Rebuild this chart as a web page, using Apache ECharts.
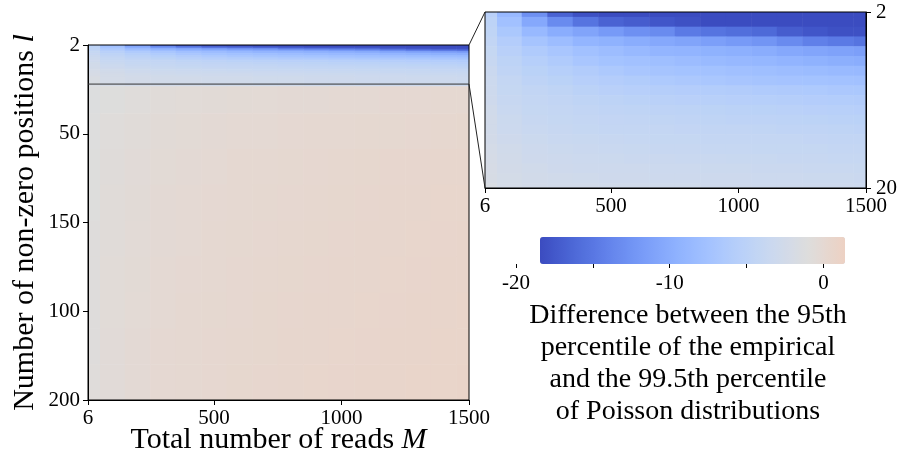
<!DOCTYPE html>
<html><head><meta charset="utf-8">
<script src="https://cdn.jsdelivr.net/npm/echarts@6/dist/echarts.min.js"></script>
<style>html,body{margin:0;padding:0;background:#fff}#c{width:900px;height:457px}</style>
</head><body><div id="c"></div>
<script>
// ---------------- data ----------------
const readsM = [6,100,200,300,400,500,600,700,800,900,1000,1100,1200,1300,1400,1500];
const insetL = [2,3,4,5,6,7,8,9,10,11,12,13,14,15,16,17,18,19,20];
const insetValues = [
  [-5.3,-8.6,-12.8,-16.6,-18.0,-18.4,-18.4,-18.4,-18.4,-18.4,-18.4,-18.4,-18.4,-18.4,-18.4,-18.4],
  [-4.8,-7.6,-10.5,-13.3,-15.2,-16.6,-17.1,-17.6,-18.0,-18.4,-18.4,-18.4,-18.4,-18.4,-18.4,-18.4],
  [-4.6,-6.7,-8.6,-10.0,-10.9,-11.9,-12.8,-13.3,-14.7,-15.2,-15.7,-16.1,-17.1,-17.6,-18.0,-18.0],
  [-4.3,-5.8,-7.2,-8.1,-9.1,-9.5,-10.0,-10.5,-10.9,-11.4,-11.9,-12.4,-13.3,-14.2,-14.7,-15.2],
  [-3.9,-5.3,-6.2,-6.9,-7.6,-8.1,-8.6,-9.1,-9.2,-9.5,-9.7,-10.0,-10.5,-10.8,-11.1,-11.4],
  [-3.7,-4.8,-5.6,-6.2,-6.9,-7.4,-7.6,-7.9,-8.2,-8.5,-8.7,-8.9,-9.2,-9.5,-9.8,-10.0],
  [-3.4,-4.5,-5.1,-5.6,-6.0,-6.5,-6.9,-7.2,-7.4,-7.5,-7.7,-7.9,-8.1,-8.3,-8.5,-8.6],
  [-3.2,-4.1,-4.7,-5.1,-5.5,-5.8,-6.1,-6.4,-6.6,-6.8,-7.0,-7.2,-7.3,-7.4,-7.5,-7.6],
  [-3.1,-3.9,-4.3,-4.6,-5.0,-5.3,-5.5,-5.7,-5.8,-5.9,-6.0,-6.2,-6.3,-6.4,-6.6,-6.7],
  [-2.9,-3.7,-4.1,-4.3,-4.6,-4.8,-5.0,-5.2,-5.3,-5.4,-5.5,-5.6,-5.7,-5.8,-5.9,-6.0],
  [-2.7,-3.5,-3.9,-4.1,-4.3,-4.5,-4.6,-4.7,-4.8,-4.9,-5.0,-5.1,-5.2,-5.3,-5.4,-5.5],
  [-2.6,-3.3,-3.7,-3.9,-4.1,-4.2,-4.3,-4.4,-4.5,-4.6,-4.7,-4.7,-4.8,-4.9,-5.0,-5.1],
  [-2.5,-3.2,-3.5,-3.7,-3.9,-4.0,-4.1,-4.1,-4.2,-4.3,-4.3,-4.4,-4.5,-4.5,-4.6,-4.7],
  [-2.4,-2.9,-3.3,-3.5,-3.6,-3.7,-3.8,-3.9,-3.9,-4.0,-4.0,-4.1,-4.1,-4.2,-4.3,-4.3],
  [-2.2,-2.7,-3.1,-3.3,-3.4,-3.5,-3.6,-3.7,-3.7,-3.8,-3.8,-3.9,-3.9,-3.9,-4.0,-4.0],
  [-2.1,-2.5,-2.9,-3.1,-3.2,-3.3,-3.4,-3.4,-3.5,-3.5,-3.6,-3.6,-3.7,-3.7,-3.8,-3.8],
  [-2.0,-2.4,-2.7,-2.9,-3.0,-3.1,-3.1,-3.2,-3.2,-3.3,-3.3,-3.4,-3.4,-3.5,-3.5,-3.6],
  [-1.9,-2.3,-2.5,-2.7,-2.8,-2.9,-2.9,-3.0,-3.0,-3.1,-3.1,-3.2,-3.2,-3.3,-3.3,-3.4],
  [-1.7,-2.2,-2.4,-2.5,-2.6,-2.7,-2.7,-2.8,-2.8,-2.9,-2.9,-3.0,-3.0,-3.1,-3.1,-3.2]
];
const lowerL = [30,50,70,90,110,130,150,170,190];
const lowerValues = [
  [-1.2,-1.0,-0.8,-0.6,-0.5,-0.4,-0.3,-0.25,-0.2,-0.15,-0.1,-0.05,0,0,0.05,0.1],
  [-1.1,-0.8,-0.55,-0.4,-0.3,-0.2,-0.1,-0.05,0,0.05,0.1,0.15,0.15,0.2,0.25,0.3],
  [-1.0,-0.7,-0.45,-0.3,-0.15,-0.05,0.05,0.1,0.15,0.2,0.25,0.3,0.35,0.35,0.4,0.4],
  [-1.0,-0.6,-0.4,-0.2,-0.1,0,0.1,0.15,0.2,0.25,0.3,0.35,0.4,0.45,0.5,0.5],
  [-0.9,-0.55,-0.35,-0.15,-0.05,0.05,0.15,0.2,0.25,0.3,0.35,0.4,0.45,0.5,0.55,0.6],
  [-0.9,-0.5,-0.3,-0.1,0,0.1,0.2,0.25,0.3,0.35,0.4,0.45,0.5,0.55,0.6,0.65],
  [-0.85,-0.5,-0.25,-0.05,0.05,0.15,0.2,0.3,0.35,0.4,0.45,0.5,0.55,0.6,0.65,0.7],
  [-0.85,-0.45,-0.2,0,0.1,0.2,0.25,0.3,0.4,0.45,0.5,0.55,0.6,0.65,0.7,0.75],
  [-0.8,-0.45,-0.2,0,0.1,0.2,0.3,0.35,0.4,0.5,0.55,0.6,0.65,0.7,0.75,0.8]
];
const xTickValues = [6,500,1000,1500];
const mainYTickValues = [2,51.5,101,150.5,200];
const mainYTickLabels = ['2','50','150','100','200'];
const insetYTickValues = [2,20];
const colorbarTickValues = [-20,-15,-10,-5,0];
const colorbarLabelValues = [-20,-10,0];
const colorRange = [-18.4,1.4];
const zoomBoxL = [2,23.8];
const captionLines = ['Difference between the 95th','percentile of the empirical','and the 99.5th percentile','of Poisson distributions'];

// ---------------- styling helpers ----------------
const FONT = "'Liberation Serif','DejaVu Serif',serif";
const coolwarm = [[59,76,192],[68,90,204],[77,104,215],[87,117,225],[98,130,234],[108,142,241],[119,154,247],[130,165,251],[141,176,254],[152,185,255],[163,194,255],[174,201,253],[184,208,249],[194,213,244],[204,217,238],[213,219,230],[221,221,221],[229,216,209],[236,211,198],[241,204,185],[245,196,173]];
const T_END = 0.57;
function cmap(t){ const f=t*32, i=Math.min(Math.floor(f),coolwarm.length-2), r=f-i;
  const a=coolwarm[i], b=coolwarm[i+1];
  return 'rgb('+a.map((c,k)=>Math.round(c+(b[k]-c)*r)).join(',')+')'; }
const stops=[]; for(let k=0;k<=40;k++) stops.push(cmap(T_END*k/40));

function edges(centers, lo, hi){
  return centers.map((c,i)=>[i===0?lo:(centers[i-1]+c)/2, i===centers.length-1?hi:(c+centers[i+1])/2]);
}
const mEdges = edges(readsM,6,1500);
function cells(ls, vals, lo, hi){
  const lE = edges(ls,lo,hi), out=[];
  ls.forEach((l,i)=>readsM.forEach((m,j)=>out.push([mEdges[j][0],mEdges[j][1],lE[i][0],lE[i][1],vals[i][j]])));
  return out;
}
const mainData = cells(insetL.concat(lowerL), insetValues.concat(lowerValues), 2, 200);
const insetData = cells(insetL, insetValues, 2, 20);

function renderCell(params, api){
  const p0 = api.coord([api.value(0), api.value(2)]);
  const p1 = api.coord([api.value(1), api.value(3)]);
  const x=Math.min(p0[0],p1[0]), y=Math.min(p0[1],p1[1]);
  return {type:'rect', shape:{x:x, y:y, width:Math.abs(p1[0]-p0[0])+0.6, height:Math.abs(p1[1]-p0[1])+0.6},
    style:{fill:api.visual('color')}};
}
const lab = {color:'#000', fontFamily:FONT, fontSize:21};
const blackLine = {lineStyle:{color:'#000', width:1}};
const titleStyle = {color:'#000', fontFamily:FONT, fontSize:30, rich:{i:{fontStyle:'italic', fontFamily:FONT, fontSize:30, color:'#000'}}};
const plain = (v)=>String(v);
function xAxisCfg(gi, name){
  return {type:'value', gridIndex:gi, min:6, max:1500, z:5,
    axisLine:{show:true, ...blackLine}, splitLine:{show:false},
    axisTick:{show:true, customValues:xTickValues, length:5, ...blackLine},
    axisLabel:{customValues:xTickValues, margin:8, formatter:plain, ...lab},
    name:name||'', nameLocation:'middle', nameGap:25, nameMoveOverlap:false, nameTextStyle:titleStyle};
}

const chart = echarts.init(document.getElementById('c'), null, {renderer:'canvas'});
chart.setOption({
  animation:false,
  backgroundColor:'#fff',
  grid:[
    {left:88, top:45, width:381, height:355, show:true, borderColor:'#000', borderWidth:1, z:5, backgroundColor:'transparent', outerBoundsMode:'none', containLabel:false},
    {left:485, top:12, width:381, height:176, show:true, borderColor:'#000', borderWidth:1, z:5, backgroundColor:'transparent', outerBoundsMode:'none', containLabel:false},
    {left:516, top:263, width:329, height:1, show:false, outerBoundsMode:'none', containLabel:false}
  ],
  xAxis:[
    xAxisCfg(0,'Total number of reads {i|M}'),
    xAxisCfg(1),
    {type:'value', gridIndex:2, min:-20, max:colorRange[1], axisLine:{show:false}, splitLine:{show:false},
     axisTick:{show:true, customValues:colorbarTickValues, length:4, ...blackLine},
     axisLabel:{customValues:colorbarLabelValues, margin:9, formatter:plain, ...lab}}
  ],
  yAxis:[
    {type:'value', gridIndex:0, inverse:true, min:2, max:200, z:5,
     axisLine:{show:true, ...blackLine}, splitLine:{show:false},
     axisTick:{show:true, customValues:mainYTickValues, length:5, ...blackLine},
     axisLabel:{customValues:mainYTickValues, margin:8, ...lab,
       formatter:(v)=>{const i=mainYTickValues.findIndex(t=>Math.abs(t-v)<1e-6); return i<0?'':mainYTickLabels[i];}},
     name:'Number of non-zero positions {i|l}', nameLocation:'middle', nameGap:48, nameTextStyle:titleStyle},
    {type:'value', gridIndex:1, inverse:true, min:2, max:20, position:'right', z:5,
     axisLine:{show:true, ...blackLine}, splitLine:{show:false},
     axisTick:{show:true, customValues:insetYTickValues, length:5, ...blackLine},
     axisLabel:{customValues:insetYTickValues, margin:10, formatter:plain, ...lab}},
    {type:'value', gridIndex:2, min:0, max:1, show:false}
  ],
  visualMap:{type:'continuous', min:colorRange[0], max:colorRange[1], dimension:4, seriesIndex:[0,1],
    orient:'horizontal', left:540, top:237, itemWidth:27, itemHeight:305, padding:0,
    calculable:false, hoverLink:false, text:null, inRange:{color:stops}},
  series:[
    {type:'custom', xAxisIndex:0, yAxisIndex:0, renderItem:renderCell, data:mainData, clip:true, z:1, silent:true,
     encode:{x:[0,1], y:[2,3]}},
    {type:'custom', xAxisIndex:1, yAxisIndex:1, renderItem:renderCell, data:insetData, clip:true, z:1, silent:true,
     encode:{x:[0,1], y:[2,3]}},
    {type:'line', xAxisIndex:2, yAxisIndex:2, data:[]}
  ]
});

const P = (gi, v) => chart.convertToPixel({xAxisIndex:gi, yAxisIndex:gi}, v);
const mTR = P(0,[1500,zoomBoxL[0]]), mBR = P(0,[1500,zoomBoxL[1]]), mBL = P(0,[6,zoomBoxL[1]]);
const iTL = P(1,[6,2]), iBL = P(1,[6,20]);
const ls = {stroke:'#222', lineWidth:1};
chart.setOption({graphic:[
  {type:'line', z:10, shape:{x1:mBL[0], y1:mBL[1], x2:mBR[0], y2:mBR[1]}, style:{stroke:'#333', lineWidth:1}},
  {type:'line', z:10, shape:{x1:mTR[0], y1:mTR[1], x2:iTL[0], y2:iTL[1]}, style:ls},
  {type:'line', z:10, shape:{x1:mBR[0], y1:mBR[1], x2:iBL[0], y2:iBL[1]}, style:ls},
  {type:'text', z:10, x:688, y:300, style:{text:captionLines.join('\n'), font:'28px '+FONT, align:'center', verticalAlign:'top', lineHeight:32, fill:'#000'}}
]});
</script></body></html>
